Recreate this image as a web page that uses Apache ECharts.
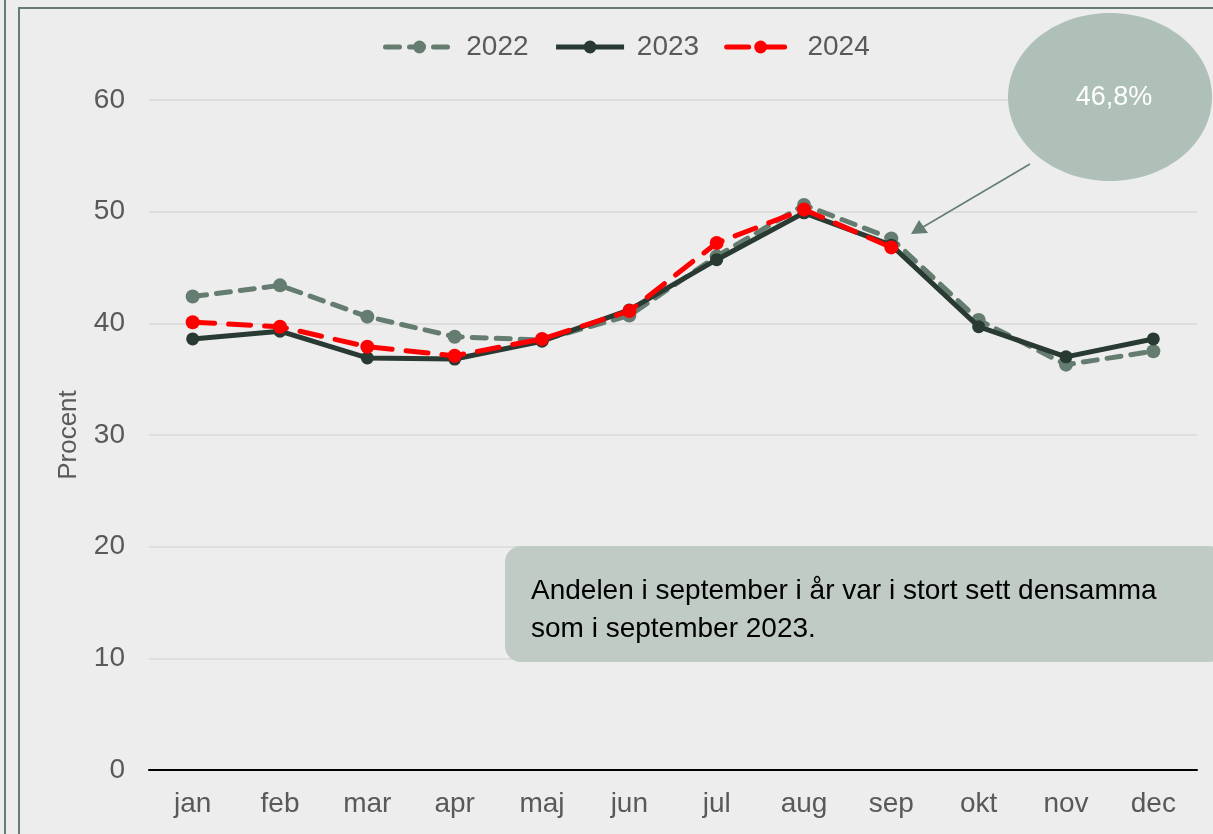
<!DOCTYPE html>
<html>
<head>
<meta charset="utf-8">
<script src="https://cdn.jsdelivr.net/npm/echarts@6/dist/echarts.min.js"></script>
<style>
  html, body { margin: 0; padding: 0; background: #ededed; }
  #chart { width: 1213px; height: 834px; }
</style>
</head>
<body>
<div id="chart"></div>
<script>
const months = ['jan', 'feb', 'mar', 'apr', 'maj', 'jun', 'jul', 'aug', 'sep', 'okt', 'nov', 'dec'];
const y2022 = [42.4, 43.4, 40.6, 38.8, 38.5, 40.7, 46.0, 50.6, 47.6, 40.3, 36.3, 37.5];
const y2023 = [38.6, 39.3, 36.9, 36.8, 38.4, 41.2, 45.7, 49.9, 47.0, 39.7, 37.0, 38.6];
const y2024 = [40.1, 39.7, 37.9, 37.1, 38.6, 41.1, 47.2, 50.2, 46.8];
const yTicks = [0, 10, 20, 30, 40, 50, 60];

const font = 'Liberation Sans, Arial, sans-serif';
const chart = echarts.init(document.getElementById('chart'));

chart.setOption({
    backgroundColor: '#ededed',
    animation: false,
    textStyle: { fontFamily: font },
    legend: {
        top: 28,
        left: 378,
        itemWidth: 68,
        itemHeight: 16,
        itemGap: 25,
        formatter: ' {name}',
        textStyle: { fontSize: 28, color: '#595959', fontFamily: font },
        data: [
            { name: '2022', lineStyle: { width: 5 } },
            { name: '2023', lineStyle: { width: 5 } },
            { name: '2024', lineStyle: { width: 5 } }
        ]
    },
    grid: {
        left: 149,
        right: 16,
        top: 100,
        bottom: 64
    },
    xAxis: {
        type: 'category',
        data: months,
        axisLine: { lineStyle: { color: '#000', width: 2 } },
        axisTick: { show: false },
        axisLabel: { fontSize: 28, color: '#595959', margin: 20, fontFamily: font }
    },
    yAxis: {
        type: 'value',
        min: yTicks[0],
        max: yTicks[yTicks.length - 1],
        interval: 10,
        name: 'Procent',
        nameLocation: 'middle',
        nameGap: 67,
        nameTextStyle: { fontSize: 26, color: '#595959', fontFamily: font },
        axisLabel: { fontSize: 28, color: '#595959', margin: 24, fontFamily: font },
        splitLine: { lineStyle: { color: '#d9d9d9', width: 1.5 } }
    },
    series: [
        {
            name: '2022',
            type: 'line',
            data: y2022,
            symbol: 'circle',
            symbolSize: 14,
            color: '#657d70',
            lineStyle: { width: 5, type: [14, 10], cap: 'round' },
            z: 2
        },
        {
            name: '2023',
            type: 'line',
            data: y2023,
            symbol: 'circle',
            symbolSize: 13,
            color: '#283a32',
            lineStyle: { width: 5 },
            z: 3
        },
        {
            name: '2024',
            type: 'line',
            data: y2024,
            symbol: 'circle',
            symbolSize: 14,
            color: '#ff0000',
            lineStyle: { width: 5, type: [22, 14], cap: 'round' },
            z: 4
        }
    ],
    graphic: [
        // frames
        { type: 'line', shape: { x1: 5, y1: 0, x2: 5, y2: 834 }, style: { stroke: '#657d70', lineWidth: 2 }, z: 10 },
        { type: 'polyline', shape: { points: [[19, 834], [19, 8], [1213, 8]] }, style: { stroke: '#657d70', lineWidth: 2, fill: null }, z: 10 },
        // callout ellipse
        { type: 'ellipse', shape: { cx: 1110, cy: 97, rx: 102, ry: 84 }, style: { fill: '#afc0b8' }, z: 10 },
        { type: 'text', x: 1114, y: 98, style: { text: '46,8%', fill: '#fff', fontSize: 27, fontFamily: font, align: 'center', verticalAlign: 'middle' }, z: 11 },
        // arrow
        { type: 'line', shape: { x1: 1030, y1: 164, x2: 918, y2: 230 }, style: { stroke: '#657d70', lineWidth: 1.5 }, z: 10 },
        { type: 'polygon', shape: { points: [[911, 234], [919, 220], [928, 233]] }, style: { fill: '#657d70' }, z: 10 },
        // text box
        { type: 'rect', shape: { x: 505, y: 546, width: 720, height: 116, r: 16 }, style: { fill: '#c0cbc5' }, z: 10 },
        { type: 'text', left: 531, top: 572, style: { text: 'Andelen i september i år var i stort sett densamma\nsom i september 2023.', fill: '#000', fontSize: 28, lineHeight: 38, fontFamily: font }, z: 11 }
    ]
});
</script>
</body>
</html>
